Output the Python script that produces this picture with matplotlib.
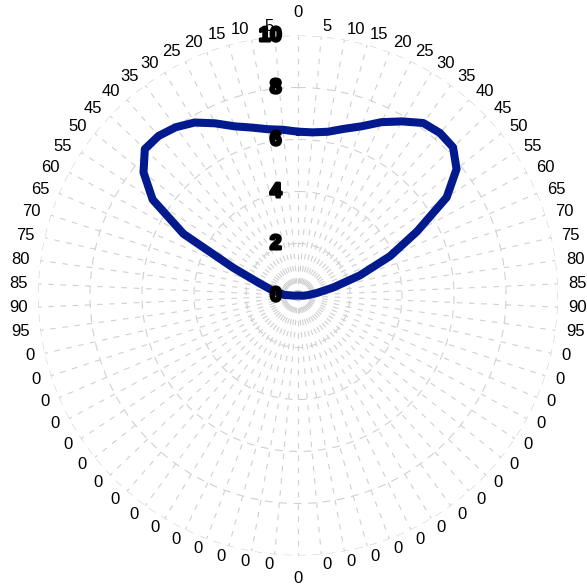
import numpy as np
import matplotlib
matplotlib.use("Agg")
import matplotlib.pyplot as plt
import matplotlib.patheffects as pe

# Category labels, clockwise from the top
categories = (
    ["0", "5", "10", "15", "20", "25", "30", "35", "40", "45",
     "50", "55", "60", "65", "70", "75", "80", "85", "90", "95"]
    + ["0"] * 31
    + ["95", "90", "85", "80", "75", "70", "65", "60", "55", "50",
       "45", "40", "35", "30", "25", "20", "15", "10", "5"]
)

# Series values, one per category (clockwise from the top)
values = [
    6.3, 6.3, 6.4, 6.65, 6.95, 7.4, 7.8, 8.2, 8.3, 8.25,
    7.8, 6.85, 5.2, 3.85, 2.5, 1.4, 0.75, 0.4, 0.2, 0.0,
    0.0, 0.0, 0.0, 0.0, 0.0, 0.0, 0.0, 0.0, 0.0, 0.0,
    0.0, 0.0, 0.0, 0.0, 0.0, 0.0, 0.0, 0.0, 0.0, 0.0,
    0.0, 0.0, 0.0, 0.0, 0.0, 0.0, 0.0, 0.0, 0.0, 0.0,
    0.0, 0.0, 0.15, 0.55, 0.7, 1.1, 1.6, 2.7, 5.0, 6.7,
    7.6, 8.15, 8.15, 8.0, 7.75, 7.35, 6.95, 6.7, 6.5, 6.4,
]

radial_ticks = [0, 2, 4, 6, 8, 10]
r_max = 10

n = len(categories)
theta = np.arange(n) * 2 * np.pi / n

W, H = 587, 588
fig = plt.figure(figsize=(W / 100, H / 100), dpi=100)
cx, cy, R = 298, 295.5, 260
ax = fig.add_axes([(cx - R) / W, (H - cy - R) / H, 2 * R / W, 2 * R / H],
                  projection="polar")
ax.set_theta_zero_location("N")
ax.set_theta_direction(-1)
ax.set_ylim(0, r_max)
ax.spines["polar"].set_visible(False)
ax.set_facecolor("white")

grid_color = "#d0d0d0"
ax.set_xticks(theta)
ax.set_xticklabels([])
ax.set_yticks(radial_ticks[1:])
ax.set_yticklabels([])
ax.xaxis.grid(True, color=grid_color, linewidth=0.8, linestyle=(0, (5, 6)))
ax.yaxis.grid(True, color=grid_color, linewidth=0.8, linestyle=(0, (7, 6)))
ax.tick_params(length=0)

# Data line (closed loop)
t_closed = np.append(theta, theta[0])
v_closed = np.append(values, values[0])
ax.plot(t_closed, v_closed, color="#021a8e", linewidth=5.8,
        solid_joinstyle="round", solid_capstyle="round", zorder=5)

# Category labels around the rim
label_font = dict(family="Liberation Sans", size=12, color="black")
for t, lab in zip(theta, categories):
    deg = np.degrees(t) % 360
    if np.isclose(deg, 0) or np.isclose(deg, 180):
        ax.text(t, 10.87, lab, ha="center", va="center", clip_on=False,
                **label_font)
    else:
        ha = "left" if deg < 180 else "right"
        ax.text(t, 10.4, lab, ha=ha, va="center", clip_on=False, **label_font)

# Radial value labels along the top spoke
for v in radial_ticks:
    ax.annotate(str(v), xy=(0, v), xytext=(-12, 0),
                textcoords="offset points", ha="right", va="center",
                family="Liberation Sans", fontweight="bold", fontsize=14.5,
                color="black", zorder=6, annotation_clip=False,
                path_effects=[pe.withStroke(linewidth=2.2, foreground="black")])

fig.savefig("out.png", dpi=100, facecolor="white")
